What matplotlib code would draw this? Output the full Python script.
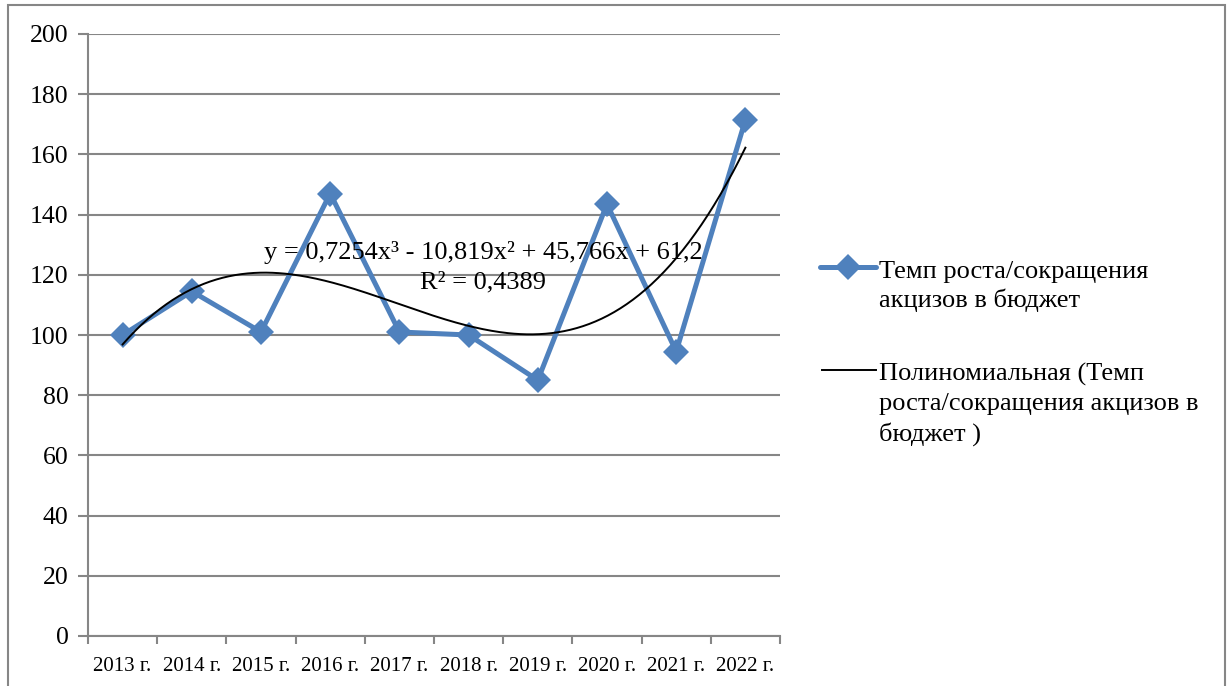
import numpy as np
import matplotlib
matplotlib.use("Agg")
import matplotlib.pyplot as plt
from matplotlib.lines import Line2D
from matplotlib.patches import Rectangle

years = ["2013 г.", "2014 г.", "2015 г.", "2016 г.", "2017 г.",
         "2018 г.", "2019 г.", "2020 г.", "2021 г.", "2022 г."]
values = [100, 114.5, 101, 147, 101, 100, 85, 143.5, 94.5, 171.5]
y_ticks = [0, 20, 40, 60, 80, 100, 120, 140, 160, 180, 200]
series_label = "Темп роста/сокращения\nакцизов в бюджет"
trend_label = "Полиномиальная (Темп\nроста/сокращения акцизов в\nбюджет )"
eq_text = "y = 0,7254x³ - 10,819x² + 45,766x + 61,2"
r2_text = "R² = 0,4389"

plt.rcParams['font.family'] = ['Liberation Serif', 'DejaVu Serif']

W, H = 1227, 686
fig = plt.figure(figsize=(W / 100, H / 100), dpi=100)

def fx(px):
    return px / W

def fy(py):
    return 1 - py / H

ax = fig.add_axes([fx(88), fy(636), fx(780) - fx(88), fy(34) - fy(636)])

grid_c = "#868686"
blue = "#4F81BD"
FS = 19
MS = 13.5
LW = 3.6

x = np.arange(len(values))
ax.plot(x, values, color=blue, lw=LW, marker="D", markersize=MS,
        markerfacecolor=blue, markeredgecolor=blue, markeredgewidth=0, zorder=3,
        solid_joinstyle="miter")

# polynomial trendline (order 3), Excel x = 1..n
xx = x + 1
coef = np.polyfit(xx, values, 3)
xs = np.linspace(1, len(values), 300)
ax.plot(xs - 1, np.polyval(coef, xs), color="black", lw=1.4, zorder=4)

ax.set_xlim(-0.5, len(values) - 0.5)
ax.set_ylim(0, 200)
ax.set_yticks(y_ticks)
ax.set_yticklabels([str(v) for v in y_ticks], fontsize=18.5)
ax.yaxis.grid(True, color=grid_c, lw=1.5)
ax.set_axisbelow(True)

ax.set_xticks(np.arange(-0.5, len(values), 1.0))
ax.set_xticklabels([])
ax.set_xticks(x, minor=True)
ax.set_xticklabels(years, minor=True, fontsize=15)
ax.tick_params(axis="x", which="major", length=6, width=1.5, color=grid_c, direction="out")
ax.tick_params(axis="x", which="minor", length=0, pad=15)
ax.tick_params(axis="y", length=7, width=1.5, color=grid_c, pad=7)

for s in ["top", "right"]:
    ax.spines[s].set_visible(False)
for s in ["left", "bottom"]:
    ax.spines[s].set_color(grid_c)
    ax.spines[s].set_linewidth(1.5)

# equation text
ax.text(5.21, 127.5, eq_text, ha="center", va="center", fontsize=FS, zorder=5)
ax.text(5.21, 117.5, r2_text, ha="center", va="center", fontsize=FS, zorder=5)

# legend (manual)
fig.add_artist(Line2D([fx(820), fx(876)], [fy(267), fy(267)], color=blue, lw=LW,
                      solid_capstyle="round", transform=fig.transFigure))
fig.add_artist(Line2D([fx(848)], [fy(267)], color=blue, marker="D", markersize=MS,
                      markeredgewidth=0, transform=fig.transFigure))
fig.text(fx(879), fy(261), series_label, ha="left", va="top", fontsize=FS,
         linespacing=1.3)
fig.add_artist(Line2D([fx(822), fx(876)], [fy(370), fy(370)], color="black", lw=1.4,
                      transform=fig.transFigure))
fig.text(fx(879), fy(363), trend_label, ha="left", va="top", fontsize=FS,
         linespacing=1.38)

# outer border
fig.add_artist(Rectangle((fx(8), -0.05), fx(1225) - fx(8), fy(5) + 0.05,
                         fill=False, edgecolor=grid_c, lw=1.5,
                         transform=fig.transFigure))

fig.savefig("out.png", dpi=100)
